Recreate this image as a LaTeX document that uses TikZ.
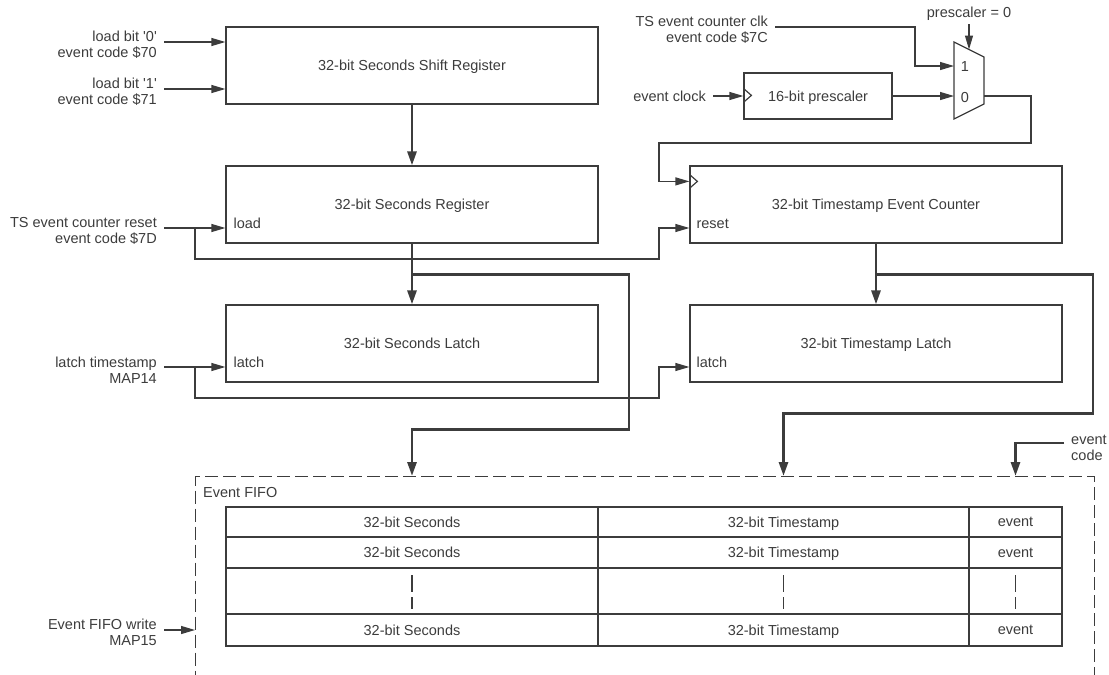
\documentclass[tikz,border=0pt]{standalone}
\usepackage{fontspec}
\setmainfont{Liberation Sans}
\usetikzlibrary{arrows.meta,positioning,calc}
\definecolor{lineGray}{RGB}{60,60,60}

\begin{document}
\begin{tikzpicture}[x=1pt, y=-1pt,
    font=\fontsize{14.5}{16}\selectfont,
    every node/.style={text=lineGray},
    blockbox/.style={draw=lineGray, line width=1.2pt, minimum width=372pt, minimum height=77pt, inner sep=0pt, text depth=0pt},
    cell/.style={draw=lineGray, line width=1.2pt, inner sep=0pt, text depth=0pt},
    fifobox/.style={draw=lineGray, line width=1.2pt, dash pattern=on 13pt off 5pt},
    wire/.style={draw=lineGray, line width=1.2pt},
    sig/.style={wire, -{Triangle[length=14pt, width=8pt]}},
    bus/.style={draw=lineGray, line width=2.8pt, -{Triangle[length=14pt, width=9pt]}},
    siglabel/.style={align=right, anchor=east, inner sep=0pt},
    portlabel/.style={anchor=west, inner sep=0pt}]
    \useasboundingbox (0,0) rectangle (1109,675);

    % Seconds side
    \node[blockbox] (shiftreg) at (412,65.5) {32-bit Seconds Shift Register};
    \node[blockbox] (secreg) at (412,204.5) {32-bit Seconds Register};
    \node[blockbox] (seclatch) at (412,343.5) {32-bit Seconds Latch};
    \node[portlabel] (ldport) at ($(secreg.west)+(8,19)$) {load};
    \node[portlabel] (seclatchport) at ($(seclatch.west)+(8,19)$) {latch};

    % Timestamp side
    \node[blockbox] (tscount) at (876,204.5) {32-bit Timestamp Event Counter};
    \node[blockbox] (tslatch) at (876,343.5) {32-bit Timestamp Latch};
    \node[portlabel] (rstport) at ($(tscount.west)+(7,19)$) {reset};
    \node[portlabel] (tslatchport) at ($(tslatch.west)+(7,19)$) {latch};
    \draw[wire] ($(tscount.north west)+(0,9)$) -- ++(8,7) -- ++(-8,7);

    % Prescaler and multiplexer
    \node[blockbox, minimum width=148pt, minimum height=46pt] (presc) at (818,96) {16-bit prescaler};
    \draw[wire] ($(presc.north west)+(0,16)$) -- ++(8,7) -- ++(-8,7);
    \draw[wire] (954,42) -- (984,57) -- (984,104) -- (954,119) -- cycle;
    \coordinate (muxone) at (954,66);
    \coordinate (muxzero) at (954,96);
    \coordinate (muxout) at (984,96);
    \coordinate (muxsel) at (969,49.5);
    \node (muxonelbl) at (965,67) {1};
    \node (muxzerolbl) at (965,98) {0};

    % Input labels
    \node[siglabel] (ldzero) at (157,45) {load bit \textquotesingle 0\textquotesingle\\event code \$70};
    \node[siglabel] (ldone) at (157,91.5) {load bit \textquotesingle 1\textquotesingle\\event code \$71};
    \node[siglabel] (rstlbl) at (157,230.5) {TS event counter reset\\event code \$7D};
    \node[siglabel] (latchlbl) at (157,370.5) {latch timestamp\\MAP14};
    \node[siglabel] (fifowrlbl) at (157,632.5) {Event FIFO write\\MAP15};
    \node[siglabel] (clklbl) at (768,29.5) {TS event counter clk\\event code \$7C};
    \node[siglabel] (evclklbl) at (706,96) {event clock};
    \node (sellbl) at (969,14) {prescaler = 0};
    \node[portlabel, align=left] (evcodelbl) at (1071,448) {event\\code};
    \coordinate (ldzeroin) at (164,42);
    \coordinate (ldonein) at (164,89);
    \coordinate (rstin) at (164,228);
    \coordinate (latchin) at (164,367);
    \coordinate (fifowrin) at (164,630);
    \coordinate (clkin) at (775,27);
    \coordinate (evcodein) at (1064,443);

    % Event FIFO
    \node[fifobox, minimum width=899pt, minimum height=240pt, anchor=north west] (fifo) at (195,476) {};
    \node[portlabel] (fifolbl) at ($(fifo.north west)+(8,17)$) {Event FIFO};
    \foreach \r/\yc/\h in {1/522/30, 2/552.5/31, 4/630/32} {
      \node[cell, minimum width=372pt, minimum height=\h pt] (sec\r) at (412,\yc) {32-bit Seconds};
      \node[cell, minimum width=371pt, minimum height=\h pt] (ts\r) at (783.5,\yc) {32-bit Timestamp};
      \node[cell, minimum width=93pt, minimum height=\h pt] (ev\r) at (1015.5,\yc) {event};
    }
    \node[cell, minimum width=372pt, minimum height=46pt] (sec3) at (412,591) {};
    \node[cell, minimum width=371pt, minimum height=46pt] (ts3) at (783.5,591) {};
    \node[cell, minimum width=93pt, minimum height=46pt] (ev3) at (1015.5,591) {};
    \foreach \c in {sec3, ts3, ev3}
      \draw[wire, dash pattern=on 17pt off 5pt] ($(\c.north)+(0,8)$) -- ($(\c.south)+(0,-6)$);

    % Control inputs
    \draw[sig] (ldzeroin) -- (ldzeroin -| shiftreg.west);
    \draw[sig] (ldonein) -- (ldonein -| shiftreg.west);
    \draw[sig] (rstin) -- (rstin -| secreg.west);
    \draw[sig] (rstin -| fifo.west) -- ++(0,31) -- ++(464,0) |- (rstin -| tscount.west);
    \draw[sig] (latchin) -- (latchin -| seclatch.west);
    \draw[sig] (latchin -| fifo.west) -- ++(0,31) -- ++(464,0) |- (latchin -| tslatch.west);
    \draw[sig] (fifowrin) -- (fifowrin -| fifo.west);

    % Clock path
    \draw[sig] (clkin) -| ($(muxone)+(-39,0)$) -- (muxone);
    \draw[sig] ([xshift=7pt]evclklbl.east) -- (presc.west);
    \draw[sig] (presc.east) -- (muxzero);
    \draw[sig] (sellbl.south) -- (muxsel);
    \draw[sig] (muxout) -- ++(47,0) -- ++(0,47) -- ++(-372,0) |- ($(tscount.north west)+(0,16)$);

    % Data buses
    \draw[bus] (shiftreg.south) -- (secreg.north);
    \draw[bus] (secreg.south) -- (seclatch.north);
    \draw[bus] (tscount.south) -- (tslatch.north);
    \coordinate (secbr) at ($(secreg.south)+(0,31)$);
    \coordinate (tsbr) at ($(tscount.south)+(0,31)$);
    \draw[bus] (secbr) -- ++(217,0) -- ++(0,155) -| (sec1 |- fifo.north);
    \draw[bus] (tsbr) -- ++(217,0) -- ++(0,139) -| (ts1 |- fifo.north);
    \draw[bus] (evcodein) -| (ev1 |- fifo.north);
\end{tikzpicture}
\end{document}
